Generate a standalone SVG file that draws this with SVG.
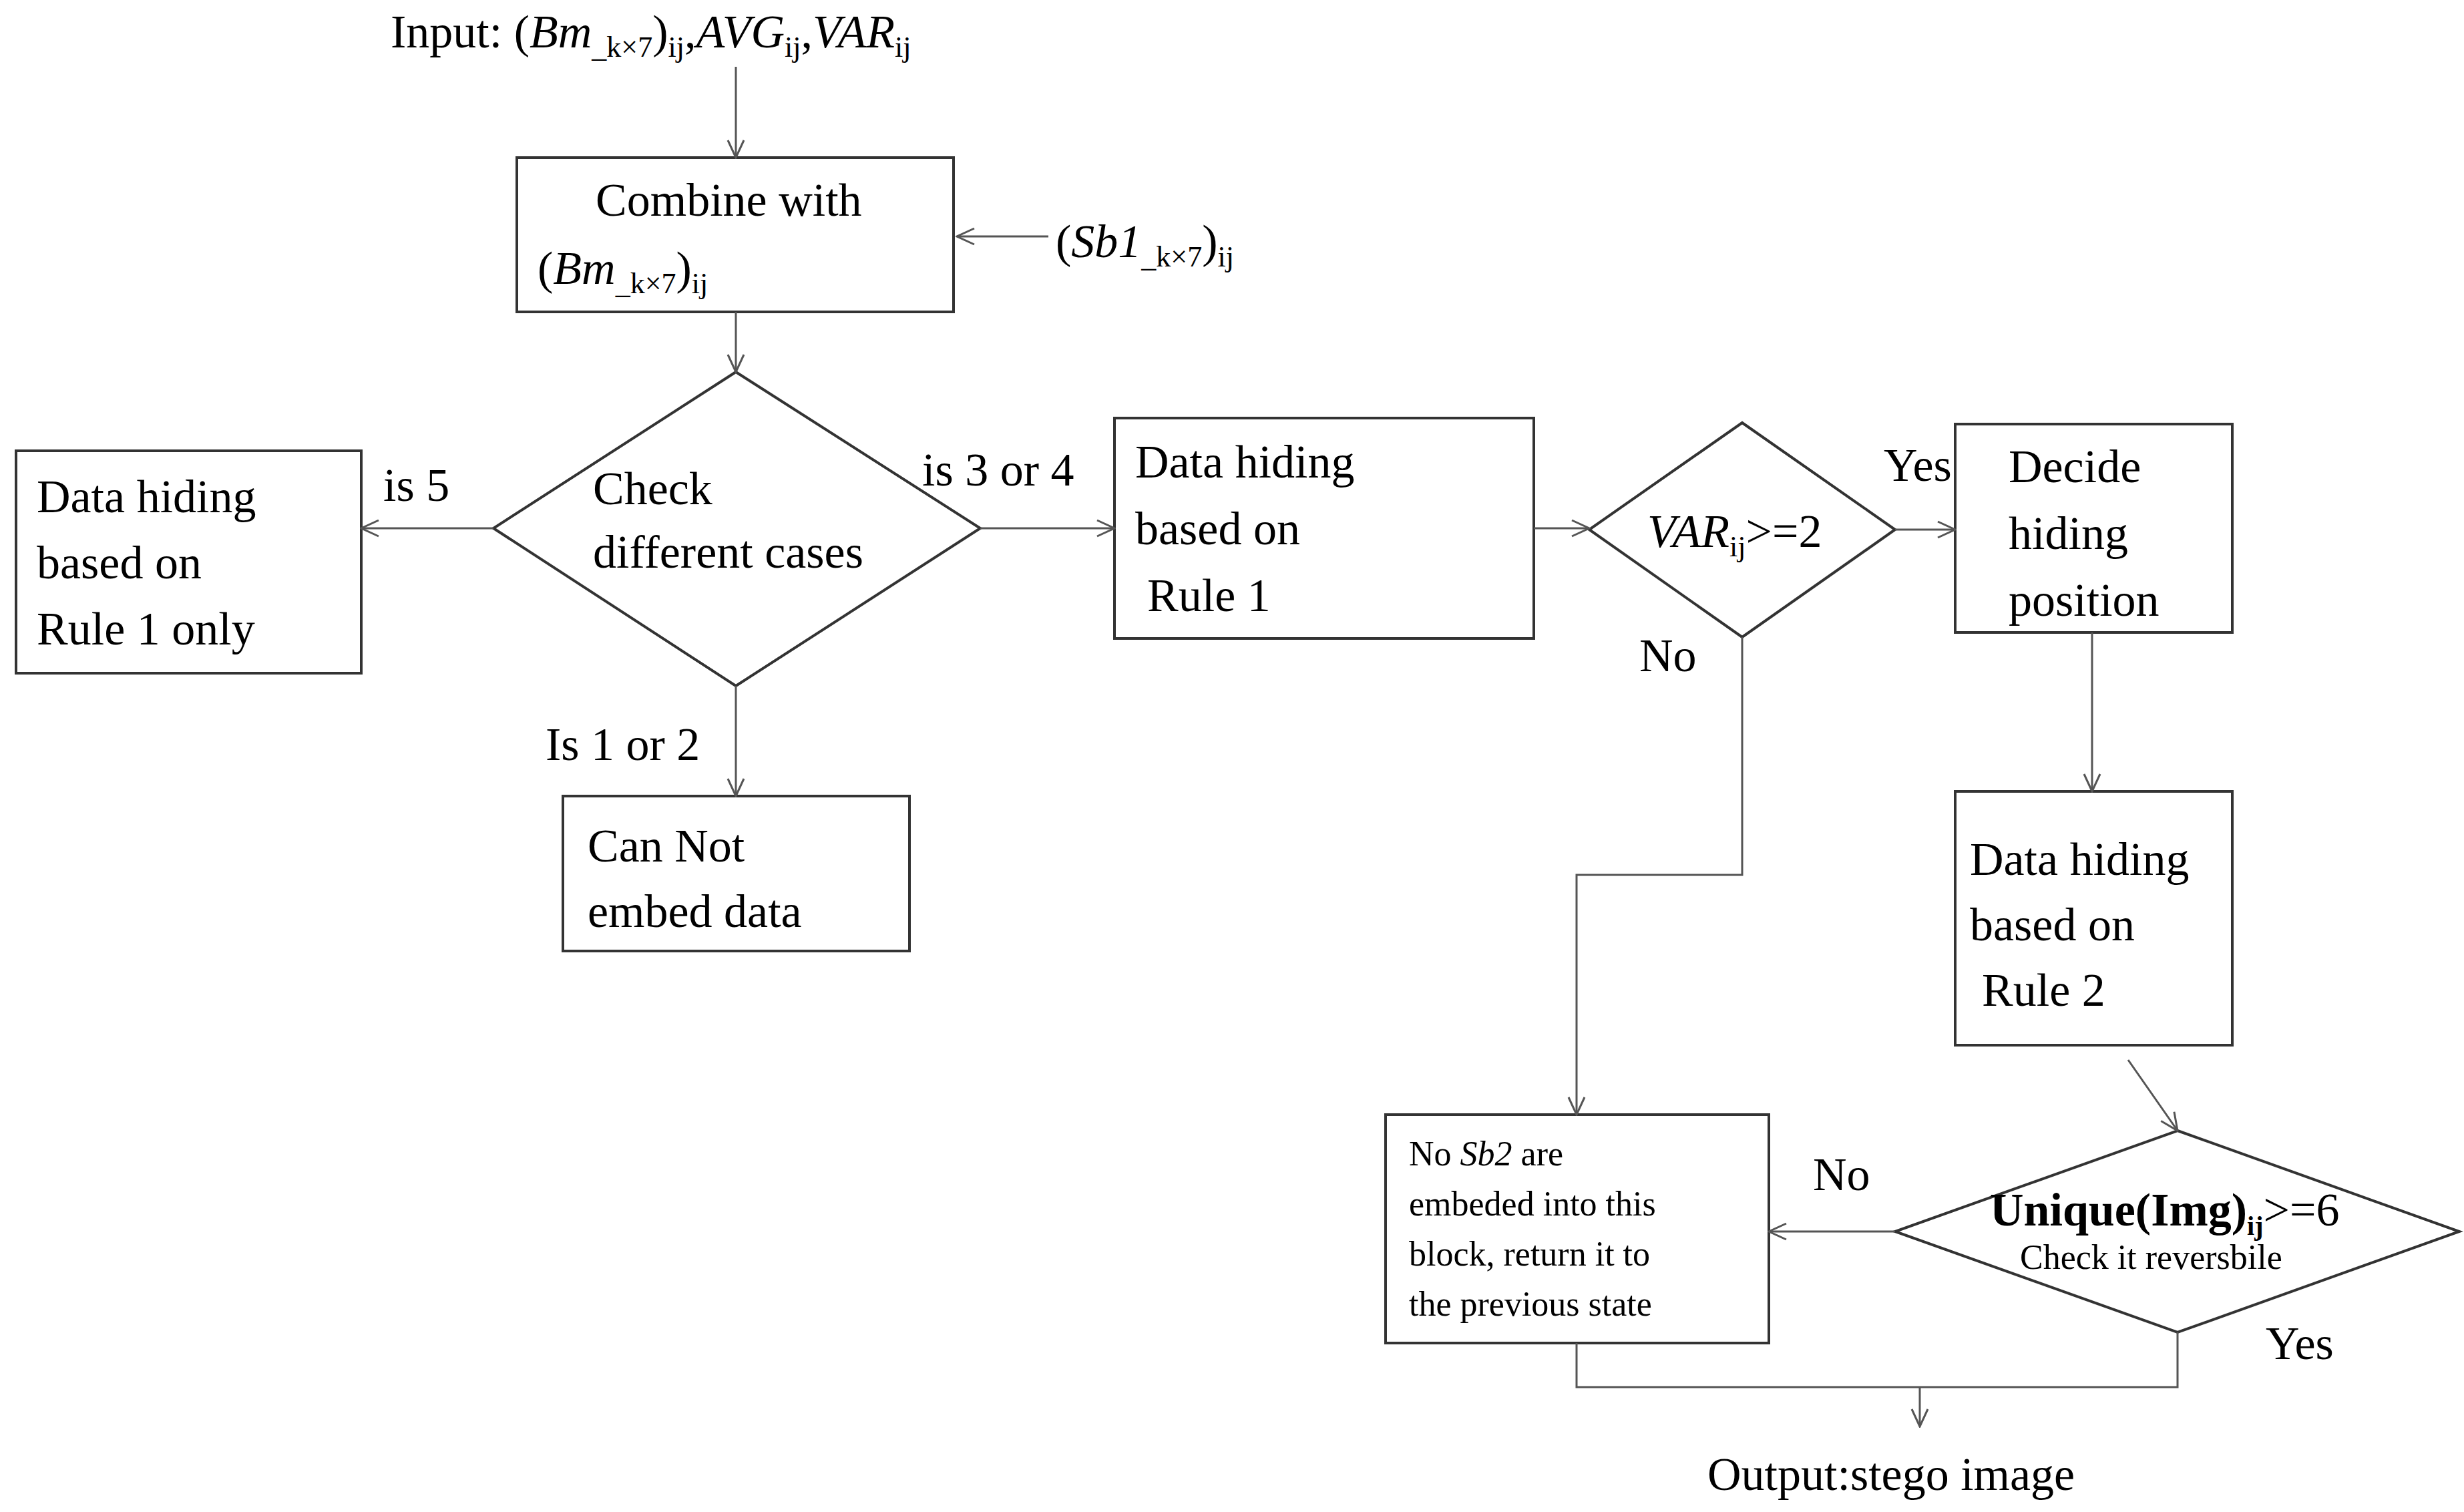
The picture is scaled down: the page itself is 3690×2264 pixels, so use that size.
<svg xmlns="http://www.w3.org/2000/svg" width="3690" height="2264" viewBox="0 0 3690 2264">
<style>
text{font-family:"Liberation Serif","Times New Roman",serif;fill:#000;font-size:70px}
.s{font-size:52px}
.i{font-style:italic}
.b{fill:#fff;stroke:#333;stroke-width:4}
.c{fill:none;stroke:#555;stroke-width:3}
</style>
<defs><marker id="a" markerWidth="30" markerHeight="30" refX="28" refY="15" orient="auto" markerUnits="userSpaceOnUse"><path d="M2,3 L28,15 L2,27" fill="none" stroke="#555" stroke-width="3"/></marker></defs>
<rect width="3690" height="2264" fill="#fff"/>
<g id="input"><text x="585" y="71">Input: (<tspan class="i">Bm</tspan><tspan font-size="44" dy="14">_k×7</tspan><tspan dy="-14">)</tspan><tspan font-size="44" dy="14">ij</tspan><tspan dy="-14">,</tspan><tspan class="i">AVG</tspan><tspan font-size="44" dy="14">ij</tspan><tspan dy="-14">,</tspan><tspan class="i">VAR</tspan><tspan font-size="44" dy="14">ij</tspan></text></g>
<g id="combine"><rect class="b" x="774" y="236" width="654" height="231"/><text x="892" y="323">Combine with</text><text x="805" y="425">(<tspan class="i">Bm</tspan><tspan font-size="44" dy="14">_k×7</tspan><tspan dy="-14">)</tspan><tspan font-size="44" dy="14">ij</tspan></text></g>
<g id="sb1"><text x="1581" y="385">(<tspan class="i">Sb1</tspan><tspan font-size="44" dy="14">_k×7</tspan><tspan dy="-14">)</tspan><tspan font-size="44" dy="14">ij</tspan></text></g>
<g id="check"><polygon class="b" points="1102,557 1468,791 1102,1027 739,791"/><text x="888" y="755">Check</text><text x="888" y="850">different cases</text></g>
<g id="rule1only"><rect class="b" x="24" y="675" width="517" height="333"/><text x="55" y="767">Data hiding</text><text x="55" y="866">based on</text><text x="55" y="965">Rule 1 only</text></g>
<g id="cannot"><rect class="b" x="843" y="1192" width="519" height="232"/><text x="880" y="1290">Can Not</text><text x="880" y="1388">embed data</text></g>
<g id="rule1"><rect class="b" x="1669" y="626" width="628" height="330"/><text x="1700" y="715">Data hiding</text><text x="1700" y="815">based on</text><text x="1718" y="915">Rule 1</text></g>
<g id="var"><polygon class="b" points="2609,633 2838,793 2609,954 2380,793"/><text x="2467" y="819"><tspan class="i">VAR</tspan><tspan font-size="44" dy="14">ij</tspan><tspan dy="-14">&gt;=2</tspan></text></g>
<g id="decide"><rect class="b" x="2928" y="635" width="415" height="312"/><text x="3008" y="722">Decide</text><text x="3008" y="822">hiding</text><text x="3008" y="922">position</text></g>
<g id="rule2"><rect class="b" x="2928" y="1185" width="415" height="380"/><text x="2950" y="1310">Data hiding</text><text x="2950" y="1408">based on</text><text x="2968" y="1506">Rule 2</text></g>
<g id="unique"><polygon class="b" points="3261,1693 3683,1844 3261,1995 2838,1844"/><text x="2980" y="1835" font-size="62" font-weight="bold">Unique(Img)<tspan font-size="40" dy="14">ij</tspan><tspan dy="-14" font-weight="normal">&gt;=6</tspan></text><text x="3025" y="1900" class="s">Check it reversbile</text></g>
<g id="nosb2"><rect class="b" x="2075" y="1669" width="574" height="342"/><text class="s" x="2110" y="1745">No <tspan class="i">Sb2</tspan> are</text><text class="s" x="2110" y="1820">embeded into this</text><text class="s" x="2110" y="1895">block, return it to</text><text class="s" x="2110" y="1970">the previous state</text></g>
<g id="output"><text x="2557" y="2231">Output:stego image</text></g>
<g id="connectors">
<path class="c" d="M1102,100 V236" marker-end="url(#a)"/>
<path class="c" d="M1570,354 H1433" marker-end="url(#a)"/>
<path class="c" d="M1102,467 V557" marker-end="url(#a)"/>
<path class="c" d="M739,791 H541" marker-end="url(#a)"/>
<path class="c" d="M1468,791 H1669" marker-end="url(#a)"/>
<path class="c" d="M1102,1027 V1192" marker-end="url(#a)"/>
<path class="c" d="M2297,791 H2380" marker-end="url(#a)"/>
<path class="c" d="M2838,793 H2928" marker-end="url(#a)"/>
<path class="c" d="M3133,947 V1185" marker-end="url(#a)"/>
<path class="c" d="M3187,1587 L3261,1693" marker-end="url(#a)"/>
<path class="c" d="M2838,1844 H2649" marker-end="url(#a)"/>
<path class="c" d="M2609,954 V1310 H2361 V1669" marker-end="url(#a)"/>
<path class="c" d="M2361,2011 V2077 H3261 V1995"/>
<path class="c" d="M2875,2077 V2136" marker-end="url(#a)"/>
</g>
<g id="labels">
<text x="574" y="750">is 5</text>
<text x="1381" y="727">is 3 or 4</text>
<text x="817" y="1138">Is 1 or 2</text>
<text x="2821" y="720" font-size="48">Yes</text>
<text x="2455" y="1005">No</text>
<text x="2715" y="1782">No</text>
<text x="3393" y="2035">Yes</text>
</g>
</svg>
